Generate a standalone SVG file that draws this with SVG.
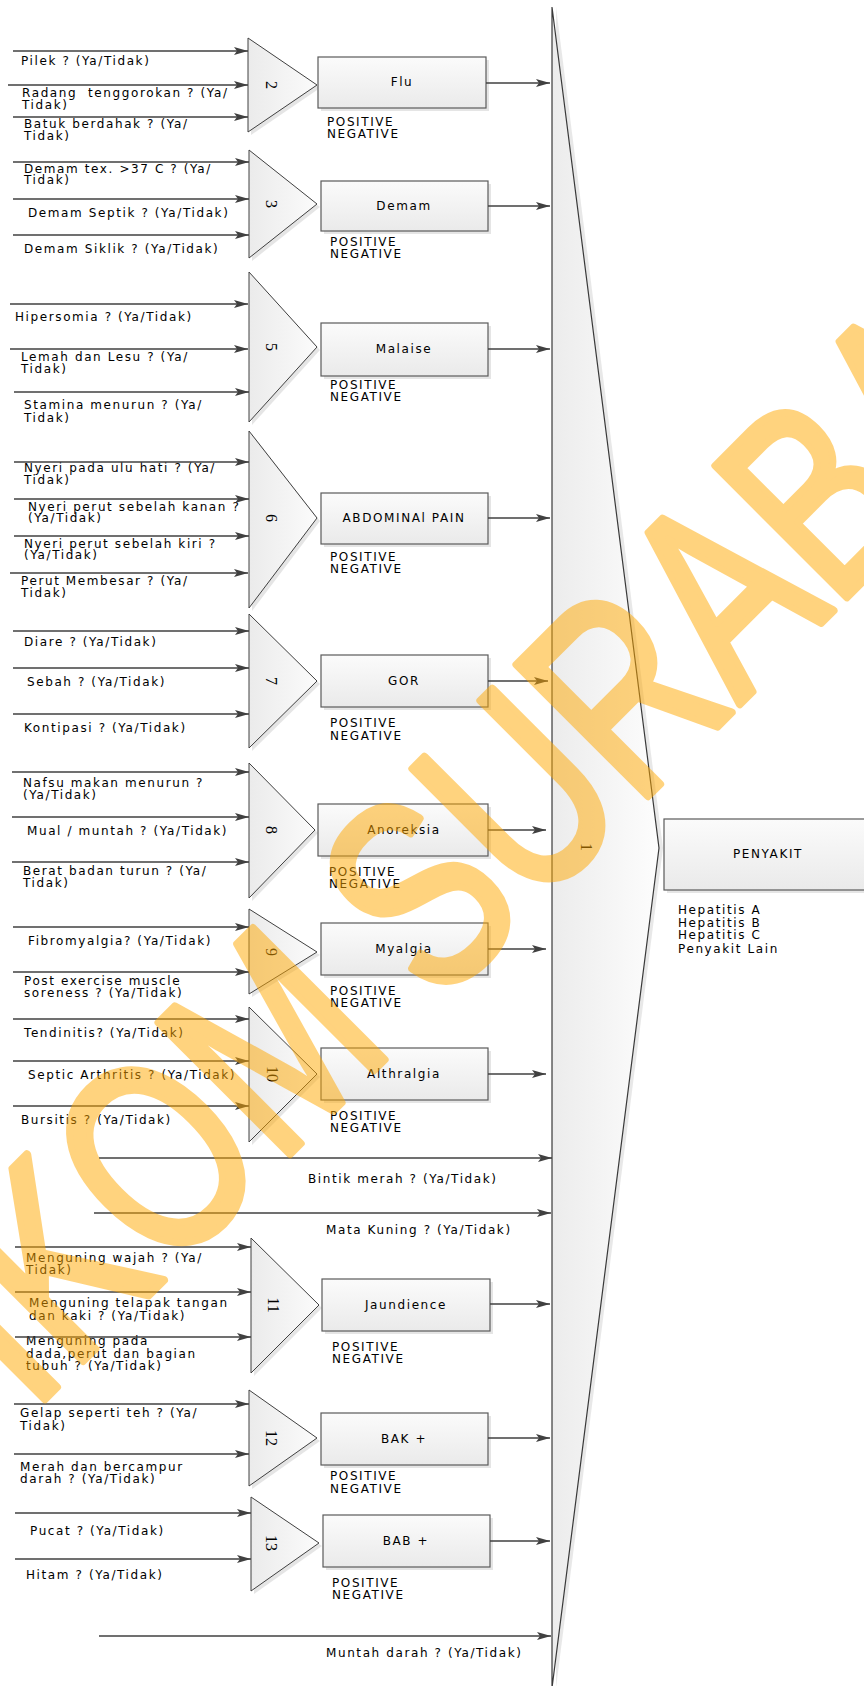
<svg xmlns="http://www.w3.org/2000/svg" width="864" height="1686" viewBox="0 0 864 1686">
  <defs>
    <linearGradient id="gBox" x1="0" y1="0" x2="0" y2="1">
      <stop offset="0" stop-color="#fbfbfb"/>
      <stop offset="1" stop-color="#eaeaea"/>
    </linearGradient>
    <linearGradient id="gTri" x1="0" y1="0" x2="1" y2="0">
      <stop offset="0" stop-color="#ebebeb"/>
      <stop offset="1" stop-color="#fbfbfb"/>
    </linearGradient>
    <linearGradient id="gBig" x1="0" y1="0" x2="1" y2="0">
      <stop offset="0" stop-color="#ececec"/>
      <stop offset="1" stop-color="#fdfdfd"/>
    </linearGradient>
    <marker id="ah" markerUnits="userSpaceOnUse" markerWidth="14" markerHeight="8" refX="14" refY="4" orient="auto">
      <path d="M0,0 L14,4 L0,8 L3,4 Z" fill="#404040"/>
    </marker>
    <style>
      .t { font-family: "DejaVu Sans", "Verdana", sans-serif; font-size: 12px; letter-spacing: 1.6px; fill: #000; }
      .c { text-anchor: middle; }
      .n { font-family: "Liberation Serif", serif; font-size: 16px; fill: #000; text-anchor: middle; dominant-baseline: central; }
      .ln { stroke: #404040; stroke-width: 1.3; fill: none; marker-end: url(#ah); }
      .tri { fill: url(#gTri); stroke: #404040; stroke-width: 1; }
      .box { fill: url(#gBox); stroke: #5a5a5a; stroke-width: 1.2; }
      .sh { fill: #cfcfcf; opacity: 0.55; }
      .wm { font-family: "Liberation Sans", Arial, sans-serif; font-size: 270px; fill: #ffa800; stroke: #ffa800; stroke-width: 8; stroke-linejoin: round; opacity: 0.5; }
    </style>
  </defs>

  <rect width="864" height="1686" fill="#ffffff"/>

  <!-- central aggregation shape (1) -->
  <g id="node-1">
    <polygon points="556,7 663,848 556,1688" fill="#d8d8d8" opacity="0.6"/>
    <polygon points="552,7 659,848 552,1688" fill="url(#gBig)" stroke="#3a3a3a" stroke-width="1.2"/>
    <text class="n" transform="translate(586,847) rotate(90)">1</text>
  </g>

  <!-- result box -->
  <g id="node-penyakit">
    <rect x="667" y="822" width="210" height="71" class="sh"/>
    <rect x="664" y="819" width="210" height="71" class="box"/>
    <text class="t c" x="768" y="858">PENYAKIT</text>
    <text class="t" x="678" y="914">Hepatitis A</text>
    <text class="t" x="678" y="927">Hepatitis B</text>
    <text class="t" x="678" y="939">Hepatitis C</text>
    <text class="t" x="678" y="953">Penyakit Lain</text>
  </g>

  <!-- group 2: Flu -->
  <g id="node-2">
    <polygon points="251,41 320,88 251,135" class="sh"/>
    <polygon points="248,38 317,85 248,132" class="tri"/>
    <text class="n" transform="translate(271,85) rotate(90)">2</text>
    <rect x="321" y="60" width="168" height="51" class="sh"/>
    <rect x="318" y="57" width="168" height="51" class="box"/>
    <text class="t c" x="402" y="86">Flu</text>
    <text class="t" x="327" y="126">POSITIVE</text>
    <text class="t" x="327" y="138">NEGATIVE</text>
    <text class="t" x="21" y="65">Pilek ? (Ya/Tidak)</text>
    <text class="t" x="22" y="97" xml:space="preserve">Radang  tenggorokan ? (Ya/</text>
    <text class="t" x="22" y="109">Tidak)</text>
    <text class="t" x="24" y="128">Batuk berdahak ? (Ya/</text>
    <text class="t" x="24" y="140">Tidak)</text>
  </g>

  <!-- group 3: Demam -->
  <g id="node-3">
    <polygon points="252,153 320,207 252,261" class="sh"/>
    <polygon points="249,150 317,204 249,258" class="tri"/>
    <text class="n" transform="translate(271,204) rotate(90)">3</text>
    <rect x="324" y="184" width="167" height="50" class="sh"/>
    <rect x="321" y="181" width="167" height="50" class="box"/>
    <text class="t c" x="404" y="210">Demam</text>
    <text class="t" x="330" y="246">POSITIVE</text>
    <text class="t" x="330" y="258">NEGATIVE</text>
    <text class="t" x="24" y="173">Demam tex. &gt;37 C ? (Ya/</text>
    <text class="t" x="24" y="184">Tidak)</text>
    <text class="t" x="28" y="217">Demam Septik ? (Ya/Tidak)</text>
    <text class="t" x="24" y="253">Demam Siklik ? (Ya/Tidak)</text>
  </g>

  <!-- group 5: Malaise -->
  <g id="node-5">
    <polygon points="252,275 320,350 252,425" class="sh"/>
    <polygon points="249,272 317,347 249,422" class="tri"/>
    <text class="n" transform="translate(271,347) rotate(90)">5</text>
    <rect x="324" y="326" width="167" height="53" class="sh"/>
    <rect x="321" y="323" width="167" height="53" class="box"/>
    <text class="t c" x="404" y="353">Malaise</text>
    <text class="t" x="330" y="389">POSITIVE</text>
    <text class="t" x="330" y="401">NEGATIVE</text>
    <text class="t" x="15" y="321">Hipersomia ? (Ya/Tidak)</text>
    <text class="t" x="21" y="361">Lemah dan Lesu ? (Ya/</text>
    <text class="t" x="21" y="373">Tidak)</text>
    <text class="t" x="24" y="409">Stamina menurun ? (Ya/</text>
    <text class="t" x="24" y="422">Tidak)</text>
  </g>

  <!-- group 6: Abdominal pain -->
  <g id="node-6">
    <polygon points="252,434 320,521 252,611" class="sh"/>
    <polygon points="249,431 317,518 249,608" class="tri"/>
    <text class="n" transform="translate(271,518) rotate(90)">6</text>
    <rect x="324" y="496" width="167" height="51" class="sh"/>
    <rect x="321" y="493" width="167" height="51" class="box"/>
    <text class="t c" x="404" y="522">ABDOMINAl PAIN</text>
    <text class="t" x="330" y="561">POSITIVE</text>
    <text class="t" x="330" y="573">NEGATIVE</text>
    <text class="t" x="24" y="472">Nyeri pada ulu hati ? (Ya/</text>
    <text class="t" x="24" y="484">Tidak)</text>
    <text class="t" x="28" y="511">Nyeri perut sebelah kanan ?</text>
    <text class="t" x="28" y="522">(Ya/Tidak)</text>
    <text class="t" x="24" y="548">Nyeri perut sebelah kiri ?</text>
    <text class="t" x="24" y="559">(Ya/Tidak)</text>
    <text class="t" x="21" y="585">Perut Membesar ? (Ya/</text>
    <text class="t" x="21" y="597">Tidak)</text>
  </g>

  <!-- group 7: GOR -->
  <g id="node-7">
    <polygon points="252,617 320,684 252,751" class="sh"/>
    <polygon points="249,614 317,681 249,748" class="tri"/>
    <text class="n" transform="translate(271,681) rotate(90)">7</text>
    <rect x="324" y="658" width="167" height="52" class="sh"/>
    <rect x="321" y="655" width="167" height="52" class="box"/>
    <text class="t c" x="404" y="685">GOR</text>
    <text class="t" x="330" y="727">POSITIVE</text>
    <text class="t" x="330" y="740">NEGATIVE</text>
    <text class="t" x="24" y="646">Diare ? (Ya/Tidak)</text>
    <text class="t" x="27" y="686">Sebah ? (Ya/Tidak)</text>
    <text class="t" x="24" y="732">Kontipasi ? (Ya/Tidak)</text>
  </g>

  <!-- group 8: Anoreksia -->
  <g id="node-8">
    <polygon points="252,766 318,833 252,901" class="sh"/>
    <polygon points="249,763 315,830 249,898" class="tri"/>
    <text class="n" transform="translate(271,830) rotate(90)">8</text>
    <rect x="321" y="807" width="170" height="52" class="sh"/>
    <rect x="318" y="804" width="170" height="52" class="box"/>
    <text class="t c" x="404" y="834">Anoreksia</text>
    <text class="t" x="329" y="876">POSITIVE</text>
    <text class="t" x="329" y="888">NEGATIVE</text>
    <text class="t" x="23" y="787">Nafsu makan menurun ?</text>
    <text class="t" x="23" y="799">(Ya/Tidak)</text>
    <text class="t" x="27" y="835">Mual / muntah ? (Ya/Tidak)</text>
    <text class="t" x="23" y="875">Berat badan turun ? (Ya/</text>
    <text class="t" x="23" y="887">Tidak)</text>
  </g>

  <!-- group 9: Myalgia -->
  <g id="node-9">
    <polygon points="252,912 320,955 252,997" class="sh"/>
    <polygon points="249,909 317,952 249,994" class="tri"/>
    <text class="n" transform="translate(271,952) rotate(90)">9</text>
    <rect x="324" y="926" width="167" height="52" class="sh"/>
    <rect x="321" y="923" width="167" height="52" class="box"/>
    <text class="t c" x="404" y="953">Myalgia</text>
    <text class="t" x="330" y="995">POSITIVE</text>
    <text class="t" x="330" y="1007">NEGATIVE</text>
    <text class="t" x="28" y="945">Fibromyalgia? (Ya/Tidak)</text>
    <text class="t" x="24" y="985">Post exercise muscle</text>
    <text class="t" x="24" y="997">soreness ? (Ya/Tidak)</text>
  </g>

  <!-- group 10: Althralgia -->
  <g id="node-10">
    <polygon points="252,1010 320,1077 252,1145" class="sh"/>
    <polygon points="249,1007 317,1074 249,1142" class="tri"/>
    <text class="n" transform="translate(272,1074) rotate(90)">10</text>
    <rect x="324" y="1051" width="167" height="52" class="sh"/>
    <rect x="321" y="1048" width="167" height="52" class="box"/>
    <text class="t c" x="404" y="1078">Althralgia</text>
    <text class="t" x="330" y="1120">POSITIVE</text>
    <text class="t" x="330" y="1132">NEGATIVE</text>
    <text class="t" x="24" y="1037">Tendinitis? (Ya/Tidak)</text>
    <text class="t" x="28" y="1079">Septic Arthritis ? (Ya/Tidak)</text>
    <text class="t" x="21" y="1124">Bursitis ? (Ya/Tidak)</text>
  </g>

  <!-- direct inputs -->
  <g id="node-direct">
    <text class="t" x="308" y="1183">Bintik merah ? (Ya/Tidak)</text>
    <text class="t" x="326" y="1234">Mata Kuning ? (Ya/Tidak)</text>
    <text class="t" x="326" y="1657">Muntah darah ? (Ya/Tidak)</text>
  </g>

  <!-- group 11: Jaundience -->
  <g id="node-11">
    <polygon points="254,1241 322,1308 254,1376" class="sh"/>
    <polygon points="251,1238 319,1305 251,1373" class="tri"/>
    <text class="n" transform="translate(273,1305) rotate(90)">11</text>
    <rect x="325" y="1282" width="168" height="52" class="sh"/>
    <rect x="322" y="1279" width="168" height="52" class="box"/>
    <text class="t c" x="406" y="1309">Jaundience</text>
    <text class="t" x="332" y="1351">POSITIVE</text>
    <text class="t" x="332" y="1363">NEGATIVE</text>
    <text class="t" x="26" y="1262">Menguning wajah ? (Ya/</text>
    <text class="t" x="26" y="1274">Tidak)</text>
    <text class="t" x="29" y="1307">Menguning telapak tangan</text>
    <text class="t" x="29" y="1320">dan kaki ? (Ya/Tidak)</text>
    <text class="t" x="26" y="1345">Menguning pada</text>
    <text class="t" x="26" y="1358">dada,perut dan bagian</text>
    <text class="t" x="26" y="1370">tubuh ? (Ya/Tidak)</text>
  </g>

  <!-- group 12: BAK + -->
  <g id="node-12">
    <polygon points="252,1393 320,1441 252,1489" class="sh"/>
    <polygon points="249,1390 317,1438 249,1486" class="tri"/>
    <text class="n" transform="translate(271,1438) rotate(90)">12</text>
    <rect x="324" y="1416" width="167" height="52" class="sh"/>
    <rect x="321" y="1413" width="167" height="52" class="box"/>
    <text class="t c" x="404" y="1443">BAK +</text>
    <text class="t" x="330" y="1480">POSITIVE</text>
    <text class="t" x="330" y="1493">NEGATIVE</text>
    <text class="t" x="20" y="1417">Gelap seperti teh ? (Ya/</text>
    <text class="t" x="20" y="1430">Tidak)</text>
    <text class="t" x="20" y="1471">Merah dan bercampur</text>
    <text class="t" x="20" y="1483">darah ? (Ya/Tidak)</text>
  </g>

  <!-- group 13: BAB + -->
  <g id="node-13">
    <polygon points="254,1500 322,1546 254,1594" class="sh"/>
    <polygon points="251,1497 319,1543 251,1591" class="tri"/>
    <text class="n" transform="translate(271,1543) rotate(90)">13</text>
    <rect x="326" y="1518" width="167" height="52" class="sh"/>
    <rect x="323" y="1515" width="167" height="52" class="box"/>
    <text class="t c" x="406" y="1545">BAB +</text>
    <text class="t" x="332" y="1587">POSITIVE</text>
    <text class="t" x="332" y="1599">NEGATIVE</text>
    <text class="t" x="30" y="1535">Pucat ? (Ya/Tidak)</text>
    <text class="t" x="26" y="1579">Hitam ? (Ya/Tidak)</text>
  </g>

  <!-- connectors -->
  <g id="connectors">
    <line class="ln" x1="13" y1="51" x2="248" y2="51"/>
    <line class="ln" x1="8" y1="85" x2="248" y2="85"/>
    <line class="ln" x1="13" y1="117" x2="248" y2="117"/>
    <line class="ln" x1="486" y1="83" x2="550" y2="83"/>

    <line class="ln" x1="13" y1="162" x2="249" y2="162"/>
    <line class="ln" x1="13" y1="199" x2="249" y2="199"/>
    <line class="ln" x1="13" y1="235" x2="249" y2="235"/>
    <line class="ln" x1="488" y1="206" x2="550" y2="206"/>

    <line class="ln" x1="10" y1="304" x2="248" y2="304"/>
    <line class="ln" x1="10" y1="349" x2="248" y2="349"/>
    <line class="ln" x1="14" y1="392" x2="249" y2="392"/>
    <line class="ln" x1="488" y1="349" x2="550" y2="349"/>

    <line class="ln" x1="14" y1="462" x2="249" y2="462"/>
    <line class="ln" x1="14" y1="499" x2="249" y2="499"/>
    <line class="ln" x1="14" y1="536" x2="249" y2="536"/>
    <line class="ln" x1="10" y1="573" x2="248" y2="573"/>
    <line class="ln" x1="488" y1="518" x2="550" y2="518"/>

    <line class="ln" x1="13" y1="631" x2="249" y2="631"/>
    <line class="ln" x1="13" y1="668" x2="249" y2="668"/>
    <line class="ln" x1="13" y1="714" x2="249" y2="714"/>
    <line class="ln" x1="488" y1="681" x2="548" y2="681"/>

    <line class="ln" x1="12" y1="772" x2="249" y2="772"/>
    <line class="ln" x1="12" y1="817" x2="249" y2="817"/>
    <line class="ln" x1="12" y1="862" x2="249" y2="862"/>
    <line class="ln" x1="488" y1="830" x2="546" y2="830"/>

    <line class="ln" x1="13" y1="927" x2="249" y2="927"/>
    <line class="ln" x1="13" y1="972" x2="249" y2="972"/>
    <line class="ln" x1="488" y1="949" x2="546" y2="949"/>

    <line class="ln" x1="13" y1="1019" x2="249" y2="1019"/>
    <line class="ln" x1="13" y1="1061" x2="249" y2="1061"/>
    <line class="ln" x1="13" y1="1106" x2="249" y2="1106"/>
    <line class="ln" x1="488" y1="1074" x2="546" y2="1074"/>

    <line class="ln" x1="99" y1="1158" x2="552" y2="1158"/>
    <line class="ln" x1="94" y1="1213" x2="551" y2="1213"/>

    <line class="ln" x1="15" y1="1247" x2="251" y2="1247"/>
    <line class="ln" x1="15" y1="1292" x2="251" y2="1292"/>
    <line class="ln" x1="15" y1="1337" x2="251" y2="1337"/>
    <line class="ln" x1="490" y1="1304" x2="550" y2="1304"/>

    <line class="ln" x1="14" y1="1404" x2="249" y2="1404"/>
    <line class="ln" x1="14" y1="1454" x2="249" y2="1454"/>
    <line class="ln" x1="488" y1="1438" x2="550" y2="1438"/>

    <line class="ln" x1="15" y1="1513" x2="251" y2="1513"/>
    <line class="ln" x1="15" y1="1559" x2="251" y2="1559"/>
    <line class="ln" x1="490" y1="1541" x2="550" y2="1541"/>

    <line class="ln" x1="99" y1="1636" x2="551" y2="1636"/>
  </g>

  <!-- watermark -->
  <text class="wm" transform="translate(-152,1596) rotate(-45) scale(0.75,1)">STIKOM SURABAYA</text>
</svg>
